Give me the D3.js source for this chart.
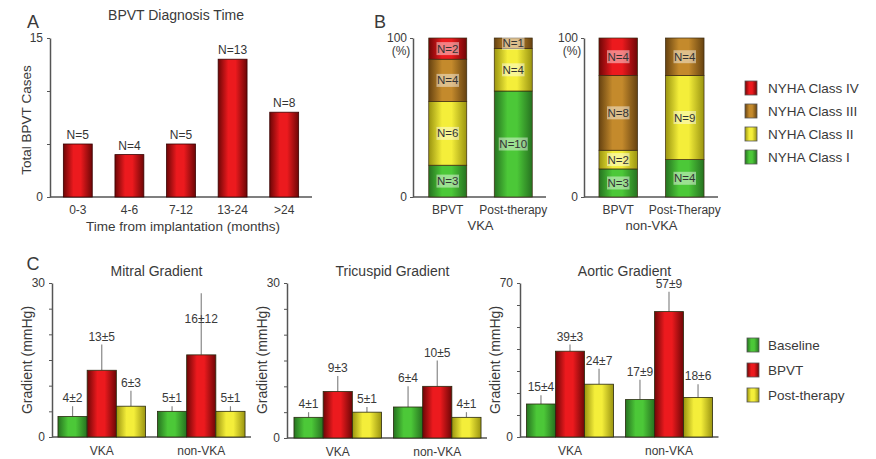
<!DOCTYPE html>
<html>
<head>
<meta charset="utf-8">
<script src="https://cdn.jsdelivr.net/npm/d3@7"></script>
<style>
  body { margin: 0; background: #fff; }
  svg { font-family: "Liberation Sans", Arial, sans-serif; }
  .axis text { fill: #3a3a3a; font-size: 12px; }
  .axis line, .axis path { stroke: #555; }
</style>
</head>
<body>
<div id="chart"></div>
<script>
// Panel A data
var diagCats = ["0-3", "4-6", "7-12", "13-24", ">24"];
var diagCounts = [5, 4, 5, 13, 8];

// Panel B data (order: class I, II, III, IV)
var nyhaClasses = ["NYHA Class I", "NYHA Class II", "NYHA Class III", "NYHA Class IV"];
var vkaBars = ["BPVT", "Post-therapy"];
var nonVkaBars = ["BPVT", "Post-Therapy"];
var vkaCounts = [[3, 6, 4, 2], [10, 4, 1, 0]];
var nonVkaCounts = [[3, 2, 8, 4], [4, 9, 4, 0]];

// Panel C data
var groups = ["VKA", "non-VKA"];
var phases = ["Baseline", "BPVT", "Post-therapy"];
var mitralMean = [[4, 13, 6], [5, 16, 5]];
var mitralSD = [[2, 5, 3], [1, 12, 1]];
var tricuspidMean = [[4, 9, 5], [6, 10, 4]];
var tricuspidSD = [[1, 3, 1], [4, 5, 1]];
var aorticMean = [[15, 39, 24], [17, 57, 18]];
var aorticSD = [[4, 3, 7], [9, 9, 6]];

var svg = d3.select("#chart").append("svg").attr("width", 876).attr("height", 459);

// gradients for the shaded bars
var palette = {
  red: ["#6e0606", "#ec1a1e"],
  brown: ["#664210", "#c48a2c"],
  yellow: ["#9a9410", "#f4ee3a"],
  green: ["#267220", "#4cc838"]
};
var defs = svg.append("defs");
Object.keys(palette).forEach(function (k) {
  var g = defs.append("linearGradient").attr("id", "g-" + k)
    .attr("x1", 0).attr("x2", 1).attr("y1", 0).attr("y2", 0);
  g.append("stop").attr("offset", "0%").attr("stop-color", palette[k][0]);
  g.append("stop").attr("offset", "35%").attr("stop-color", palette[k][1]);
  g.append("stop").attr("offset", "60%").attr("stop-color", palette[k][1]);
  g.append("stop").attr("offset", "100%").attr("stop-color", palette[k][0]);
});
var nyhaFill = ["url(#g-green)", "url(#g-yellow)", "url(#g-brown)", "url(#g-red)"];
var phaseFill = ["url(#g-green)", "url(#g-red)", "url(#g-yellow)"];

function text(x, y, s, size, opts) {
  opts = opts || {};
  var t = svg.append("text").attr("x", x).attr("y", y).text(s)
    .attr("font-size", size + "px").attr("fill", opts.fill || "#3a3a3a")
    .attr("text-anchor", opts.anchor || "middle");
  if (opts.rotate) t.attr("transform", "rotate(-90," + x + "," + y + ")");
  if (opts.weight) t.attr("font-weight", opts.weight);
  return t;
}

function yAxis(x, y, ticks, labels) {
  svg.append("g").attr("class", "axis")
    .attr("transform", "translate(" + x + ",0)")
    .call(d3.axisLeft(y).tickValues(ticks).tickSizeInner(3).tickSizeOuter(0)
      .tickPadding(4)
      .tickFormat(function (d) { return labels.indexOf(d) >= 0 ? d : ""; }))
    .call(function (g) { g.select(".domain").attr("stroke-width", 1.5); });
}

function baseLine(x0, x1, y) {
  svg.append("line").attr("x1", x0).attr("x2", x1).attr("y1", y).attr("y2", y)
    .attr("stroke", "#555").attr("stroke-width", 1.5);
}

// ---------------- Panel A ----------------
text(33, 28, "A", 18);
text(176, 20, "BPVT Diagnosis Time", 14);
var xA = d3.scaleBand().domain(diagCats).range([52, 310]).paddingInner(0.44).paddingOuter(0.22);
var yA = d3.scaleLinear().domain([0, 15]).range([197, 38]);
yAxis(50, yA, [0, 5, 10, 15], [0, 15]);
baseLine(50, 312, 197);
svg.selectAll(".barA").data(diagCounts).enter().append("rect")
  .attr("x", function (d, i) { return xA(diagCats[i]); })
  .attr("y", function (d) { return yA(d); })
  .attr("width", xA.bandwidth())
  .attr("height", function (d) { return yA(0) - yA(d); })
  .attr("fill", "url(#g-red)").attr("stroke", "#3a0000").attr("stroke-width", 0.8);
svg.selectAll(".lblA").data(diagCounts).enter().append("text")
  .attr("x", function (d, i) { return xA(diagCats[i]) + xA.bandwidth() / 2; })
  .attr("y", function (d) { return yA(d) - 5; })
  .attr("text-anchor", "middle").attr("font-size", "12px").attr("fill", "#333")
  .text(function (d) { return "N=" + d; });
svg.append("g").attr("class", "axis").attr("transform", "translate(0,197)")
  .call(d3.axisBottom(xA).tickSize(0).tickPadding(8))
  .call(function (g) { g.select(".domain").remove(); });
text(183, 231, "Time from implantation (months)", 13.5);
text(31, 120, "Total BPVT Cases", 13.5, { rotate: true });

// ---------------- Panel B ----------------
text(380, 28, "B", 18);
var yB = d3.scaleLinear().domain([0, 100]).range([197, 38]);

function stacked(axisX, range, cats, counts, groupName) {
  var x = d3.scaleBand().domain(cats).range(range).paddingInner(0.42).paddingOuter(0.21);
  svg.append("g").attr("class", "axis").attr("transform", "translate(" + axisX + ",0)")
    .call(d3.axisLeft(yB).tickValues([0, 100]).tickSizeInner(3).tickSizeOuter(0).tickPadding(3))
    .call(function (g) { g.select(".domain").attr("stroke-width", 1.5); });
  text(axisX - 12, 55, "(%)", 12);
  baseLine(axisX, range[1], 197);
  counts.forEach(function (c, i) {
    var total = d3.sum(c);
    var stack = d3.cumsum(c);
    c.forEach(function (v, k) {
      if (v === 0) return;
      var top = yB(stack[k] / total * 100);
      var bot = yB((stack[k] - v) / total * 100);
      svg.append("rect").attr("x", x(cats[i])).attr("y", top)
        .attr("width", x.bandwidth()).attr("height", bot - top)
        .attr("fill", nyhaFill[k]).attr("stroke", "#3a2a10").attr("stroke-width", 0.7);
      var cx = x(cats[i]) + x.bandwidth() / 2, cy = (top + bot) / 2;
      var lbl = "N=" + v;
      var w = lbl.length * 6.5 + 3;
      svg.append("rect").attr("x", cx - w / 2).attr("y", cy - 6.5)
        .attr("width", w).attr("height", 13)
        .attr("fill", "#fff").attr("fill-opacity", 0.45);
      svg.append("text").attr("x", cx).attr("y", cy + 4)
        .attr("text-anchor", "middle").attr("font-size", "11.5px").attr("fill", "#333")
        .text(lbl);
    });
  });
  svg.append("g").attr("class", "axis").attr("transform", "translate(0,197)")
    .call(d3.axisBottom(x).tickSize(0).tickPadding(8))
    .call(function (g) { g.select(".domain").remove(); });
  text((range[0] + range[1]) / 2, 230, groupName, 13);
}
stacked(413, [415, 546], vkaBars, vkaCounts, "VKA");
stacked(584, [585, 718], nonVkaBars, nonVkaCounts, "non-VKA");

// NYHA legend (top to bottom: IV, III, II, I)
var legB = nyhaClasses.slice().reverse();
legB.forEach(function (name, i) {
  var yy = 88 + i * 23;
  svg.append("rect").attr("x", 745).attr("y", yy - 7).attr("width", 12).attr("height", 14)
    .attr("fill", nyhaFill[3 - i]).attr("stroke", "#555").attr("stroke-width", 0.8);
  text(768, yy + 5, name, 13.5, { anchor: "start" });
});

// ---------------- Panel C ----------------
text(33, 270, "C", 18);

function gradientChart(axisX, range, yMax, y0, title, means, sds, ticks) {
  var y = d3.scaleLinear().domain([0, yMax]).range([y0, 283]);
  var x0 = d3.scaleBand().domain(groups).range(range).paddingInner(0.12).paddingOuter(0.06);
  var x1 = d3.scaleBand().domain(phases).range([0, x0.bandwidth()]);
  yAxis(axisX, y, ticks, [0, yMax]);
  baseLine(axisX, range[1], y0);
  text((range[0] + range[1]) / 2 + 5, 276, title, 14);
  text(axisX - 20, 360, "Gradient (mmHg)", 14, { rotate: true });
  means.forEach(function (row, gi) {
    row.forEach(function (m, pi) {
      var bx = x0(groups[gi]) + x1(phases[pi]);
      var cx = bx + x1.bandwidth() / 2;
      var s = sds[gi][pi];
      svg.append("line").attr("x1", cx).attr("x2", cx)
        .attr("y1", y(m)).attr("y2", y(m + s))
        .attr("stroke", "#888").attr("stroke-width", 1.2);
      svg.append("rect").attr("x", bx).attr("y", y(m))
        .attr("width", x1.bandwidth()).attr("height", y(0) - y(m))
        .attr("fill", phaseFill[pi]).attr("stroke", "#2a2a10").attr("stroke-width", 0.8);
      var ly = Math.max(y(m + s) - 4, y(m) - 32);
      text(cx, ly, m + "\u00b1" + s, 12, { fill: "#3a3a3a" });
    });
  });
  svg.append("g").attr("class", "axis").attr("transform", "translate(0," + y0 + ")")
    .call(d3.axisBottom(x0).tickSize(0).tickPadding(9))
    .call(function (g) { g.select(".domain").remove(); g.selectAll("text").attr("font-size", "13px"); });
}
gradientChart(52, [52, 251], 30, 437, "Mitral Gradient", mitralMean, mitralSD, [0, 5, 10, 15, 20, 25, 30]);
gradientChart(287, [288, 487], 30, 438, "Tricuspid Gradient", tricuspidMean, tricuspidSD, [0, 5, 10, 15, 20, 25, 30]);
gradientChart(520, [520.5, 718.5], 70, 437, "Aortic Gradient", aorticMean, aorticSD, [0, 10, 20, 30, 40, 50, 60, 70]);

// phase legend
phases.forEach(function (name, i) {
  var yy = 345 + i * 25;
  svg.append("rect").attr("x", 747).attr("y", yy - 7).attr("width", 12).attr("height", 14)
    .attr("fill", phaseFill[i]).attr("stroke", "#555").attr("stroke-width", 0.8);
  text(768, yy + 5, name, 13.5, { anchor: "start" });
});
</script>
</body>
</html>
